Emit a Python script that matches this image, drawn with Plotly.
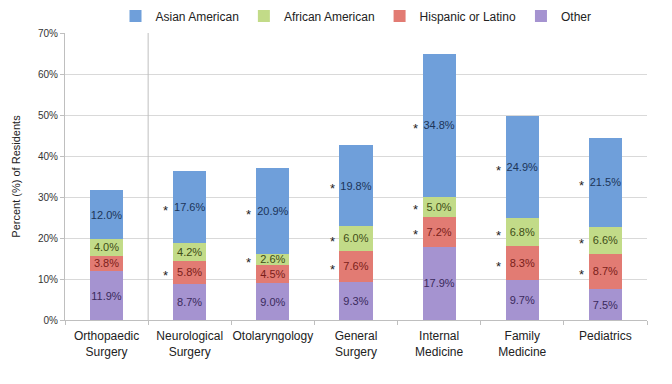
import plotly.graph_objects as go

categories = ["Orthopaedic<br>Surgery", "Neurological<br>Surgery", "Otolaryngology",
              "General<br>Surgery", "Internal<br>Medicine", "Family<br>Medicine", "Pediatrics"]

other = [11.9, 8.7, 9.0, 9.3, 17.9, 9.7, 7.5]
hispanic = [3.8, 5.8, 4.5, 7.6, 7.2, 8.3, 8.7]
african = [4.0, 4.2, 2.6, 6.0, 5.0, 6.8, 6.6]
asian = [12.0, 17.6, 20.9, 19.8, 34.8, 24.9, 21.5]

# significance markers (1 = asterisk shown)
star_other = [0, 0, 0, 0, 0, 0, 0]
star_hispanic = [0, 1, 0, 1, 1, 1, 1]
star_african = [0, 0, 1, 1, 1, 1, 1]
star_asian = [0, 1, 1, 1, 1, 1, 1]

series = [
    ("Other", other, "#A593D0", "#3A2A5C", star_other),
    ("Hispanic or Latino", hispanic, "#E27B73", "#7A1E1A", star_hispanic),
    ("African American", african, "#C2DB88", "#3E4C16", star_african),
    ("Asian American", asian, "#6F9FDA", "#1C3559", star_asian),
]

font_family = "Liberation Sans, Arial, sans-serif"
fig = go.Figure()
base = [0.0] * len(categories)
annotations = []
for name, vals, color, tcolor, stars in series:
    fig.add_trace(go.Bar(
        x=categories, y=vals, name=name,
        marker=dict(color=color, line=dict(width=0)),
        texttemplate="%{y:.1f}%", textposition="inside", textangle=0,
        insidetextanchor="middle", constraintext="none",
        textfont=dict(size=11, color=tcolor, family=font_family),
        width=0.4,
    ))
    for i, (v, s) in enumerate(zip(vals, stars)):
        if s:
            annotations.append(dict(
                x=categories[i], y=base[i] + v / 2, xref="x", yref="y",
                text="*", showarrow=False, xshift=-24, yshift=-3,
                font=dict(size=13, color="#222222", family=font_family),
            ))
    base = [b + v for b, v in zip(base, vals)]

W, H = 664, 376  # page body has an 8px margin
fig.update_layout(
    width=W, height=H,
    barmode="stack",
    paper_bgcolor="white", plot_bgcolor="white",
    margin=dict(l=57, r=25, t=25, b=64, autoexpand=False),
    font=dict(family=font_family, color="#222222"),
    legend=dict(orientation="h", x=0.5, xanchor="center",
                yref="container", y=1 - 8 / H, yanchor="middle",
                traceorder="reversed", font=dict(size=12, color="#222222"),
                itemwidth=30),
    annotations=annotations,
    shapes=[dict(type="line", xref="x domain", yref="y domain",
                 x0=1 / 7, x1=1 / 7, y0=0, y1=1,
                 line=dict(color="#BFBFBF", width=1))],
)
fig.update_xaxes(
    tickfont=dict(size=12, color="#222222"), tickangle=0, automargin=False,
    ticklabelstandoff=5,
    showline=True, linecolor="#BFBFBF", linewidth=1,
    ticks="outside", tickson="boundaries", ticklen=4, tickcolor="#BFBFBF",
    showgrid=False,
)
fig.update_yaxes(
    range=[0, 70], dtick=10, ticksuffix="%", automargin=False,
    tickfont=dict(size=10, color="#333333"),
    showgrid=True, gridcolor="#D9D9D9", gridwidth=1,
    showline=True, linecolor="#BFBFBF", linewidth=1,
    ticks="outside", ticklen=4, tickcolor="#BFBFBF",
    zeroline=False,
    title=dict(text="Percent (%) of Residents", font=dict(size=11, color="#222222"), standoff=15),
)

fig.write_html("out.html")
